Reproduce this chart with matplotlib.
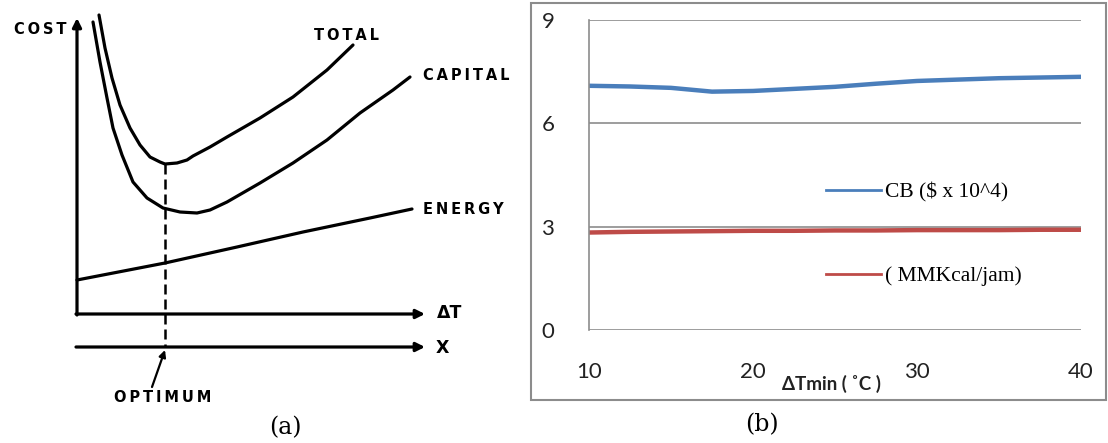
import numpy as np
import matplotlib.pyplot as plt
from matplotlib.lines import Line2D
from matplotlib.patches import Rectangle

# ---- (a) schematic cost curves (arbitrary units) ----
total_x = [2.2, 2.8, 3.5, 4.3, 5.3, 6.3, 7.3, 8.3, 8.8, 10.0, 11.0, 11.6, 13.3, 15.0,
           18.3, 21.6, 25.0, 27.6]
total_y = [29.9, 26.6, 23.6, 20.9, 18.6, 16.9, 15.7, 15.2, 15.0, 15.1, 15.4, 15.8, 16.7,
           17.7, 19.6, 21.7, 24.4, 26.9]
capital_x = [1.6, 2.3, 3.0, 3.6, 4.5, 5.6, 7.0, 8.6, 10.3, 12.0, 13.3, 15.0, 18.3, 21.6,
             25.0, 28.3, 31.6, 33.3]
capital_y = [29.2, 25.2, 21.6, 18.6, 15.9, 13.2, 11.6, 10.6, 10.2, 10.1, 10.4, 11.2, 13.1,
             15.1, 17.4, 20.1, 22.4, 23.7]
energy_x = [0, 8.8, 16.0, 22.6, 29.3, 33.5]
energy_y = [3.4, 5.1, 6.7, 8.2, 9.6, 10.5]
optimum_x = 8.8
optimum_y = 15.0

# ---- (b) CB and energy vs dTmin ----
dtmin = [10, 12.5, 15, 17.5, 20, 22.5, 25, 27.5, 30, 32.5, 35, 37.5, 40]
cb = [7.09, 7.07, 7.03, 6.92, 6.94, 7.00, 7.06, 7.15, 7.23, 7.27, 7.31, 7.33, 7.35]
energy = [2.83, 2.85, 2.86, 2.87, 2.88, 2.88, 2.89, 2.89, 2.90, 2.90, 2.90, 2.91, 2.91]
yticks = [0, 3, 6, 9]
xticks = [10, 20, 30, 40]

W, H = 1108, 443
fig = plt.figure(figsize=(W / 100, H / 100), dpi=100)
fig.patch.set_facecolor('white')

# left panel
ax = fig.add_axes([0, 0, 520 / W, 1])
ax.set_xlim(-7.7, 44.3)
ax.set_ylim(-12.9, 31.4)
ax.axis('off')

lw = 2.3
arrow = dict(arrowstyle='-|>', lw=lw, color='black', mutation_scale=13, shrinkA=0, shrinkB=0)
ax.annotate('', xy=(0, 29.6), xytext=(0, -0.1), arrowprops=arrow)
ax.annotate('', xy=(34.8, 0), xytext=(-0.1, 0), arrowprops=arrow)
ax.annotate('', xy=(34.8, -3.3), xytext=(-0.1, -3.3), arrowprops=arrow)

for xs, ys in [(total_x, total_y), (capital_x, capital_y), (energy_x, energy_y)]:
    ax.plot(xs, ys, color='black', lw=lw, solid_capstyle='round', solid_joinstyle='round')
ax.plot([optimum_x, optimum_x], [optimum_y, -3.3], color='black', lw=1.8,
        linestyle=(0, (4, 2)))

lab = dict(fontsize=10.5, fontweight='bold', family='DejaVu Sans', color='black',
           ha='center', va='center')
sp = '\u2009'
ax.text(-3.7, 28.4, sp.join('COST'), **lab)
ax.text(27.0, 27.9, sp.join('TOTAL'), **lab)
ax.text(38.9, 23.8, sp.join('CAPITAL'), **lab)
ax.text(38.6, 10.4, sp.join('ENERGY'), **lab)
ax.text(8.6, -8.3, sp.join('OPTIMUM'), **lab)
ax.text(37.3, 0.1, '\u0394T', fontsize=12.5, fontweight='bold', ha='center', va='center')
ax.text(36.5, -3.4, 'X', fontsize=12.5, fontweight='bold', ha='center', va='center')
ax.annotate('', xy=(8.8, -3.6), xytext=(7.5, -7.3),
            arrowprops=dict(arrowstyle='-|>', lw=1.6, color='black', mutation_scale=10,
                            shrinkA=0, shrinkB=0))

# right panel frame
fig.patches.append(Rectangle((531 / W, 1 - 400 / H), (1106 - 531) / W, (400 - 3) / H,
                             transform=fig.transFigure, fill=False,
                             edgecolor='#8c8c8c', lw=1.5))

bx = fig.add_axes([589 / W, 1 - 330 / H, (1081 - 589) / W, (330 - 20) / H])
bx.set_xlim(10, 40)
bx.set_ylim(0, 9)
for s in ['top', 'right', 'bottom']:
    bx.spines[s].set_visible(False)
bx.spines['left'].set_color('#8c8c8c')
bx.spines['left'].set_linewidth(1.2)
bx.set_yticks(yticks)
bx.set_xticks(xticks)
bx.grid(axis='y', color='#8c8c8c', lw=1.2)
bx.tick_params(length=0, labelsize=16, labelcolor='#222222')
bx.tick_params(axis='y', pad=25)
bx.tick_params(axis='x', pad=23)
for t in bx.get_xticklabels() + bx.get_yticklabels():
    t.set_family(['Lato', 'DejaVu Sans'])

l1, = bx.plot(dtmin, cb, color='#4a7ebb', lw=3.2, label='CB ($ x 10^4)')
l2, = bx.plot(dtmin, energy, color='#be4b48', lw=3.2, label='( MMKcal/jam)')
leg = bx.legend(handles=[Line2D([], [], color='#4a7ebb', lw=2),
                         Line2D([], [], color='#be4b48', lw=2)],
                labels=[l1.get_label(), l2.get_label()],
                loc='upper left', bbox_to_anchor=(0.481, 0.476), frameon=False,
                handlelength=2.55, handletextpad=0.2, labelspacing=2.95,
                borderaxespad=0, borderpad=0,
                prop=dict(family='Liberation Serif', size=15.5))

fig.text(831 / W, 1 - 384 / H, '\u0394Tmin ( \u02daC )', fontsize=13.5,
         family=['Lato', 'DejaVu Sans'], fontweight='bold', ha='center', va='center',
         color='#222222')

fig.text(285 / W, 1 - 428 / H, '(a)', fontsize=17, family='DejaVu Serif',
         ha='center', va='center')
fig.text(762 / W, 1 - 425 / H, '(b)', fontsize=17, family='DejaVu Serif',
         ha='center', va='center')

fig.savefig('out.png', dpi=100)
